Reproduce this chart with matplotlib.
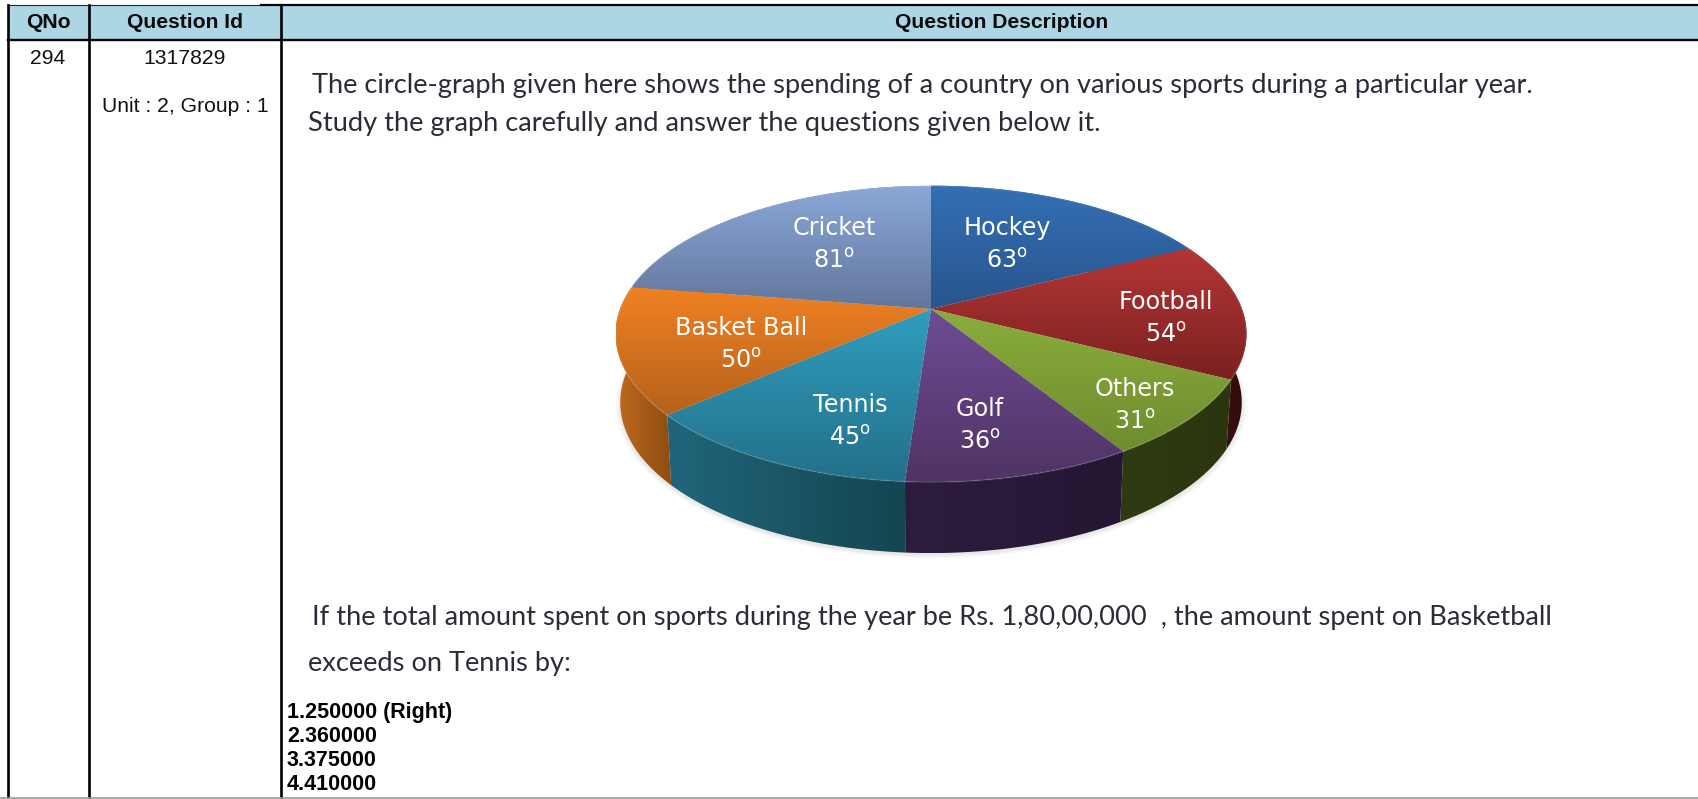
import numpy as np
import matplotlib
matplotlib.use('Agg')
import matplotlib.pyplot as plt
from matplotlib.colors import LinearSegmentedColormap
from matplotlib.patches import Polygon, Rectangle

sports = ['Hockey', 'Football', 'Others', 'Golf', 'Tennis', 'Basket Ball', 'Cricket']
degrees = [63, 54, 31, 36, 45, 50, 81]

headers = ['QNo', 'Question Id', 'Question Description']
qno = '294'
qid = '1317829'
unit = 'Unit : 2, Group : 1'
intro = ['The circle-graph given here shows the spending of a country on various sports during a particular year.',
         'Study the graph carefully and answer the questions given below it.']
question = ['If the total amount spent on sports during the year be Rs. 1,80,00,000  , the amount spent on Basketball',
            'exceeds on Tennis by:']
options = ['1.250000 (Right)', '2.360000', '3.375000', '4.410000']

# top colour, bottom colour of each slice
top_cols = [('#3470b5', '#28558c'), ('#b43636', '#7c2020'), ('#8bad3c', '#6f8c2f'),
            ('#6e4c96', '#503364'), ('#309dbe', '#237089'), ('#f18123', '#b5621c'),
            ('#8ba8d8', '#62769c')]
side_cols = [('#2a4d7a', '#2a4d7a'), ('#4a1414', '#300c0c'), ('#2f3b12', '#2b3610'),
             ('#2c1d3e', '#241733'), ('#20667a', '#144550'), ('#c06a1e', '#8c4c12'),
             ('#62769c', '#62769c')]
label_xy = [(1007, 228), (1166, 302), (1135, 389), (980, 409), (850, 405), (741, 328), (834, 228)]

plt.rcParams['mathtext.default'] = 'regular'
fig = plt.figure(figsize=(16.98, 7.99), dpi=100)
ax = fig.add_axes([0, 0, 1, 1])
ax.axis('off')


def project(angle, depth=False):
    # circle seen in perspective, angle clockwise from 12 o'clock
    a = np.radians(angle)
    u, v = np.sin(a), -np.cos(a)
    w = 1 - 0.168 * v
    x = 311 * u / w
    y = 144 * v / w
    if depth:
        x = x * 0.985
        y = y + 68 + 3 * v
    return 931 + x, 309 + y


def fill_grad(pts, cols, horizontal=False):
    cmap = LinearSegmentedColormap.from_list('g', cols)
    x0, x1 = pts[:, 0].min(), pts[:, 0].max()
    y0, y1 = pts[:, 1].min(), pts[:, 1].max()
    g = np.linspace(0, 1, 128)
    g = g.reshape(1, -1) if horizontal else g.reshape(-1, 1)
    im = ax.imshow(g, cmap=cmap, extent=(x0, x1, y1, y0), aspect='auto', zorder=3,
                   interpolation='bilinear', vmin=0, vmax=1)
    im.set_clip_path(Polygon(pts, transform=ax.transData))


# soft shadow under the pie
theta = np.linspace(0, 360, 200)
bx, by = project(theta, depth=True)
for s in np.linspace(1.015, 1.0, 6):
    ax.fill(931 + (bx - 931) * s, 311 + (by - 309) * s, color='black', alpha=0.015, lw=0, zorder=2)

start = 0
for i, d in enumerate(degrees):
    t = np.linspace(start, start + d, 60)
    x, y = project(t)
    xb, yb = project(t, depth=True)
    side = np.column_stack([np.r_[x, xb[::-1]], np.r_[y, yb[::-1]]])
    fill_grad(side, side_cols[i], horizontal=True)
    start += d

start = 0
for i, d in enumerate(degrees):
    t = np.linspace(start, start + d, 60)
    x, y = project(t)
    face = np.column_stack([np.r_[931, x], np.r_[309, y]])
    fill_grad(face, top_cols[i])
    # light rim on the front edge
    ax.plot(x, y, color='white', alpha=0.08, lw=1.5, zorder=4)
    start += d

for name, d, (lx, ly) in zip(sports, degrees, label_xy):
    ax.text(lx, ly, name, color='white', fontsize=17.2, ha='center', va='center',
            family='DejaVu Sans', zorder=5)
    ax.text(lx, ly + 33, f'{d}$^{{o}}$', color='white', fontsize=17.2, ha='center', va='center',
            family='DejaVu Sans', zorder=5)

# table
ax.add_patch(Rectangle((8, 5), 1690, 34, color='#add6e5', lw=0, zorder=1))
ax.plot([8, 261], [5, 5], color='#222222', lw=0.8, zorder=6)
ax.plot([261, 1698], [5, 5], color='black', lw=1.6, zorder=6)
ax.plot([8, 1698], [39.5, 39.5], color='black', lw=1.7, zorder=6)
for vx in [8, 89, 281]:
    ax.plot([vx, vx], [5, 797], color='black', lw=1.9, zorder=6)
ax.plot([0, 1698], [798, 798], color='#999999', lw=1.2, zorder=6)

arial = 'Liberation Sans'
for cx, h in zip([48, 185, 1002], headers):
    ax.text(cx, 23, h, family=arial, weight='bold', fontsize=15.2, ha='center', va='center', color='#0a0a0a')
ax.text(48, 58, qno, family=arial, fontsize=15.2, ha='center', va='center', color='#111111')
ax.text(185, 58, qid, family=arial, fontsize=15.2, ha='center', va='center', color='#111111')
ax.text(185, 106, unit, family=arial, fontsize=15.2, ha='center', va='center', color='#111111')

body = dict(family='Lato', fontsize=19.6, va='center', color='#2c2c38', zorder=5)
ax.text(312, 86, intro[0], **body)
ax.text(308, 123, intro[1], **body)
ax.text(312, 617, question[0], **body)
ax.text(308, 663, question[1], **body)

for yy, o in zip([718, 742, 766, 790], options):
    ax.text(287, yy, o, family=arial, weight='bold', fontsize=15.5, va='baseline', color='black')

ax.set_xlim(0, 1698)
ax.set_ylim(799, 0)
fig.savefig('out.png', dpi=100, facecolor='white')
